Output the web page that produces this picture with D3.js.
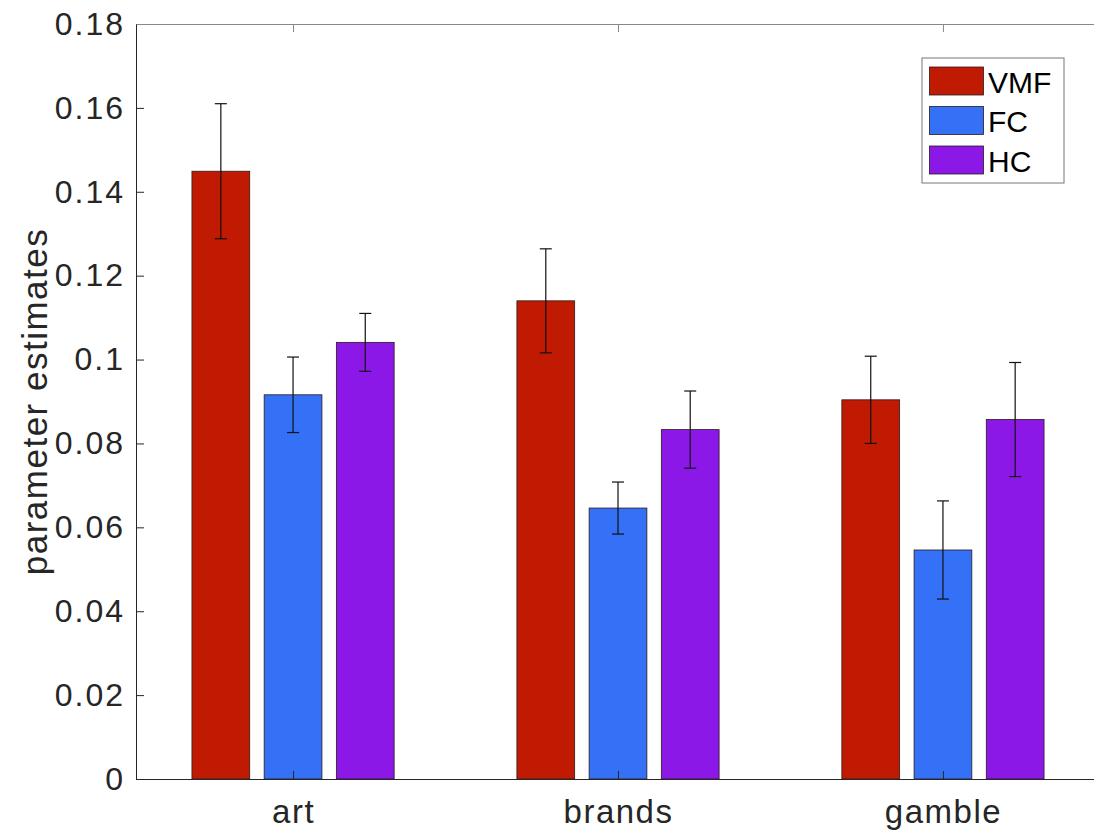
<!DOCTYPE html>
<html>
<head>
<meta charset="utf-8">
<script src="https://cdn.jsdelivr.net/npm/d3@7"></script>
<style>
  html, body { margin: 0; padding: 0; background: #fff; }
  svg { display: block; }
  text { font-family: "Liberation Sans", Arial, Helvetica, sans-serif; }
</style>
</head>
<body>
<div id="chart"></div>
<script>
// Grouped bar chart of parameter estimates with standard-error bars
const categories = ["art", "brands", "gamble"];
const seriesNames = ["VMF", "FC", "HC"];
const seriesColors = ["#c01b02", "#3471f6", "#8c18e8"];
const valuesVMF = [0.1449, 0.1140, 0.0904];
const valuesFC  = [0.0916, 0.0646, 0.0546];
const valuesHC  = [0.1041, 0.0833, 0.0857];
const errVMF = [0.0161, 0.0124, 0.0104];
const errFC  = [0.0090, 0.0062, 0.0117];
const errHC  = [0.0069, 0.0092, 0.0136];
const yTicks = [0, 0.02, 0.04, 0.06, 0.08, 0.1, 0.12, 0.14, 0.16, 0.18];
const yTickLabels = ["0", "0.02", "0.04", "0.06", "0.08", "0.1", "0.12", "0.14", "0.16", "0.18"];

const series = [
  { name: seriesNames[0], color: seriesColors[0], values: valuesVMF, errs: errVMF },
  { name: seriesNames[1], color: seriesColors[1], values: valuesFC,  errs: errFC },
  { name: seriesNames[2], color: seriesColors[2], values: valuesHC,  errs: errHC }
];

const W = 1094, H = 835;
const plot = { left: 136, right: 1100, top: 24, bottom: 779 };

const svg = d3.select("#chart").append("svg")
  .attr("width", W).attr("height", H);

// x: category index (1..3) on a continuous axis
const x = d3.scaleLinear().domain([0.5167, 3.4833]).range([plot.left, plot.right]);
const y = d3.scaleLinear().domain([0, 0.18]).range([plot.bottom, plot.top]);

const nBars = series.length;
const groupWidth = Math.min(0.8, nBars / (nBars + 1.5));
const barW = 0.8 * groupWidth / nBars;
const offset = i => -groupWidth / 2 + (2 * i + 1) * groupWidth / (2 * nBars);

const axisColor = "#262626";

// bars
series.forEach((s, si) => {
  const g = svg.append("g");
  g.selectAll("rect").data(s.values).enter().append("rect")
    .attr("x", (d, ci) => x(ci + 1 + offset(si) - barW / 2))
    .attr("width", x(barW) - x(0))
    .attr("y", d => y(d))
    .attr("height", d => y(0) - y(d))
    .attr("fill", s.color)
    .attr("stroke", "#2a1a1a")
    .attr("stroke-width", 0.8);
});

// error bars
series.forEach((s, si) => {
  const g = svg.append("g").attr("stroke", "#111").attr("stroke-width", 1.2);
  s.values.forEach((v, ci) => {
    const cx = x(ci + 1 + offset(si));
    const e = s.errs[ci];
    const cap = 6;
    g.append("line").attr("x1", cx).attr("x2", cx).attr("y1", y(v - e)).attr("y2", y(v + e));
    g.append("line").attr("x1", cx - cap).attr("x2", cx + cap).attr("y1", y(v + e)).attr("y2", y(v + e));
    g.append("line").attr("x1", cx - cap).attr("x2", cx + cap).attr("y1", y(v - e)).attr("y2", y(v - e));
  });
});

// axes box
const yAxis = d3.axisLeft(y).tickValues(yTicks)
  .tickFormat((d, i) => yTickLabels[i]).tickSizeInner(-8).tickSizeOuter(0).tickPadding(11);
const gy = svg.append("g").attr("transform", `translate(${plot.left},0)`).call(yAxis);
gy.select(".domain").attr("stroke", axisColor);
gy.selectAll(".tick line").attr("stroke", axisColor);
gy.selectAll(".tick text").attr("fill", axisColor)
  .style("font-size", "32px").style("letter-spacing", "2px");

const xAxis = d3.axisBottom(x).tickValues([1, 2, 3])
  .tickFormat((d, i) => categories[i]).tickSizeInner(-8).tickSizeOuter(0).tickPadding(21);
const gx = svg.append("g").attr("transform", `translate(0,${plot.bottom})`).call(xAxis);
gx.select(".domain").attr("stroke", axisColor);
gx.selectAll(".tick line").attr("stroke", axisColor);
gx.selectAll(".tick text").attr("fill", axisColor)
  .style("font-size", "33px").style("letter-spacing", "1.5px");

// top edge with inward ticks
const xTop = d3.axisTop(x).tickValues([1, 2, 3]).tickFormat("").tickSizeInner(-8).tickSizeOuter(0);
const gt = svg.append("g").attr("transform", `translate(0,${plot.top})`).call(xTop);
gt.select(".domain").attr("stroke", "#888");
gt.selectAll(".tick line").attr("stroke", "#888");

// y label
svg.append("text")
  .attr("transform", `translate(47,${(plot.top + plot.bottom) / 2}) rotate(-90)`)
  .attr("text-anchor", "middle")
  .style("font-size", "35px")
  .style("letter-spacing", "1.5px")
  .attr("fill", axisColor)
  .text("parameter estimates");

// legend
const leg = svg.append("g");
leg.append("rect").attr("x", 922).attr("y", 58).attr("width", 142).attr("height", 125)
  .attr("fill", "#fff").attr("stroke", "#777").attr("stroke-width", 1);
series.forEach((s, i) => {
  const ry = 67 + i * 39.5;
  leg.append("rect").attr("x", 929.5).attr("y", ry).attr("width", 54).attr("height", 28)
    .attr("fill", s.color).attr("stroke", "#2a1a1a").attr("stroke-width", 0.8);
  leg.append("text").attr("x", 988).attr("y", ry + 25.5)
    .style("font-size", "30px").attr("fill", "#000").text(s.name);
});
</script>
</body>
</html>
